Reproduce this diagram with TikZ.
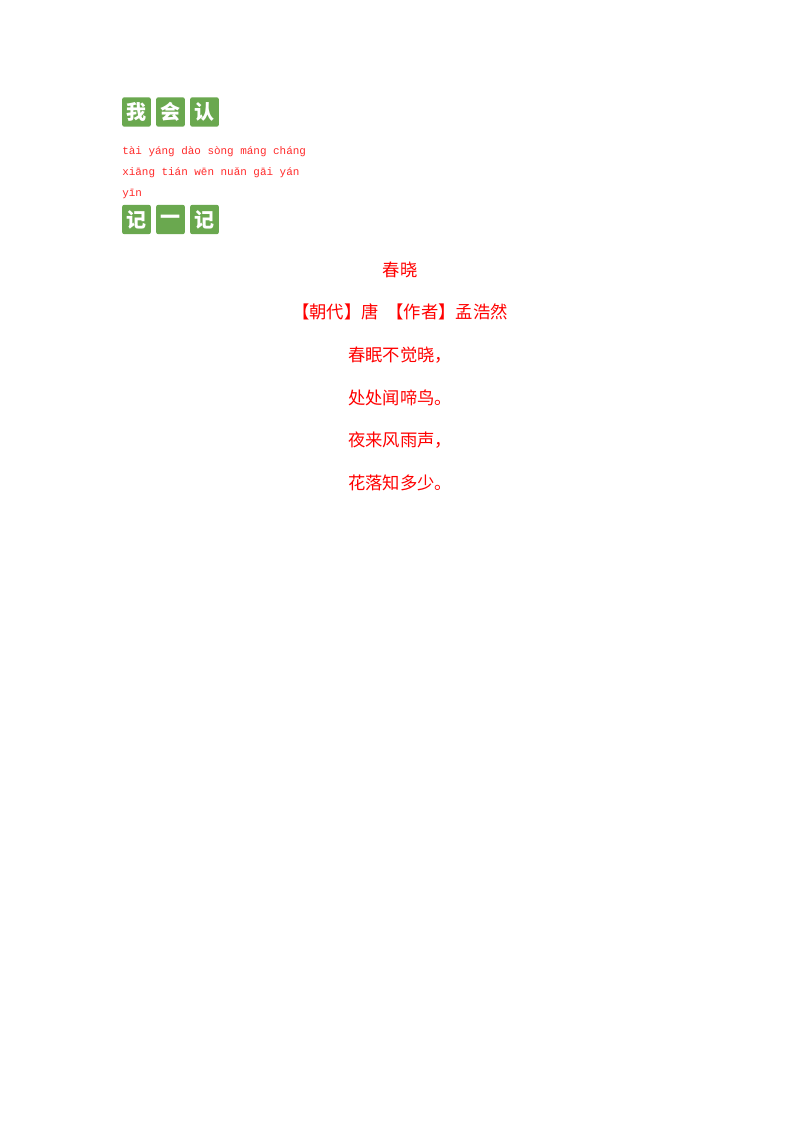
\documentclass[tikz,border=0pt]{standalone}
\usepackage{fontspec}
\setmainfont{Liberation Serif}
\newfontfamily\cjk{Noto Sans CJK SC}
\newfontfamily\pymono{Liberation Mono}
\definecolor{hgreen}{HTML}{6AA84F}
\definecolor{pred}{HTML}{FF2A2A}
\tikzset{
  badge/.style={fill=hgreen, rounded corners=1.5pt, minimum width=21.5pt, minimum height=22pt, inner sep=0pt, text=white, font=\cjk\bfseries\fontsize{15}{15}\selectfont},
  py/.style={anchor=west, text=pred, inner sep=0pt, font=\pymono\fontsize{8.2}{9}\selectfont},
  poem/.style={text=red, inner sep=0pt, font=\cjk\fontsize{13}{13}\selectfont}
}
\begin{document}
\begin{tikzpicture}[x=0.75pt,y=-0.75pt]
\useasboundingbox (0,0) rectangle (800,1132);
\node[badge] (b1) at (136.5,112) {我};
\node[badge] (b2) at (170.5,112) {会};
\node[badge] (b3) at (204.5,112) {认};
\node[py] (p1) at (122,152) {tài yáng dào sòng máng cháng};
\node[py] (p2) at (122,173) {xiāng tián wēn nuǎn gāi yán};
\node[py] (p3) at (122,194) {yīn};
\node[badge] (c1) at (136.5,219.5) {记};
\node[badge] (c2) at (170.5,219.5) {一};
\node[badge] (c3) at (204.5,219.5) {记};
\node[poem] (t) at (400,270) {春晓};
\node[poem] (a) at (400,312) {【朝代】唐\ \ 【作者】孟浩然};
\node[poem] (l1) at (400,355) {春眠不觉晓，};
\node[poem] (l2) at (400,398) {处处闻啼鸟。};
\node[poem] (l3) at (400,440) {夜来风雨声，};
\node[poem] (l4) at (400,483) {花落知多少。};
\end{tikzpicture}
\end{document}
